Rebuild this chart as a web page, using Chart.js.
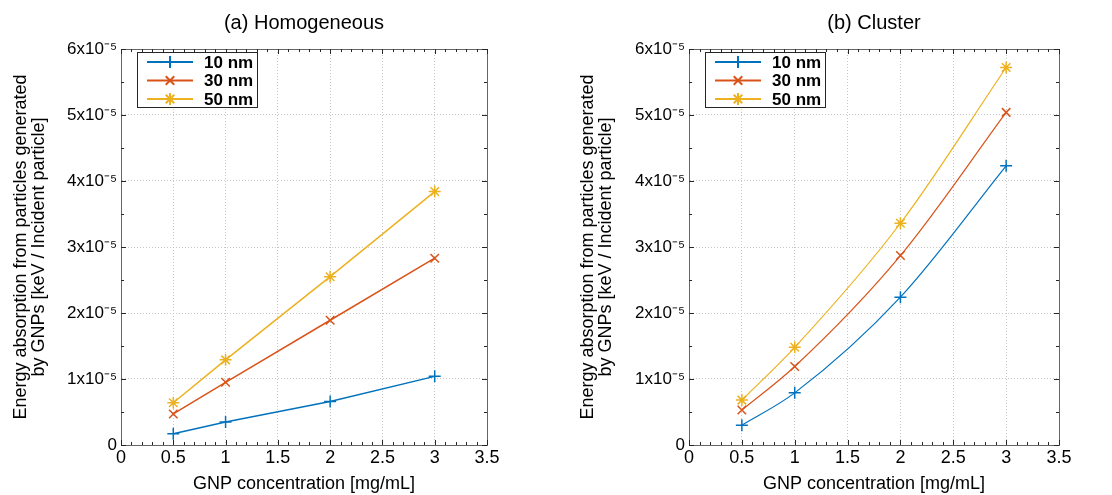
<!DOCTYPE html>
<html>
<head>
<meta charset="utf-8">
<script src="https://cdn.jsdelivr.net/npm/chart.js@4.4.1/dist/chart.umd.min.js"></script>
<style>
  body { margin: 0; background: #fff; }
  .wrap { position: absolute; top: 0; width: 556px; height: 495px; }
</style>
</head>
<body>
<div class="wrap" style="left:0"><canvas id="chartA"></canvas></div>
<div class="wrap" style="left:556px"><canvas id="chartB"></canvas></div>
<script>
const concentrations = [0.5, 1, 2, 3];
const seriesNames = ["10 nm", "30 nm", "50 nm"];
const seriesColors = ["#0072BD", "#D95319", "#EDB120"];
const seriesMarkers = ["cross", "crossRot", "star"];

// (a) Homogeneous
const homog10 = [1.7e-6, 3.5e-6, 6.6e-6, 1.04e-5];
const homog30 = [4.7e-6, 9.5e-6, 1.89e-5, 2.83e-5];
const homog50 = [6.4e-6, 1.29e-5, 2.55e-5, 3.84e-5];

// (b) Cluster
const cluster10 = [3.0e-6, 7.9e-6, 2.24e-5, 4.23e-5];
const cluster30 = [5.3e-6, 1.19e-5, 2.87e-5, 5.04e-5];
const cluster50 = [6.8e-6, 1.48e-5, 3.36e-5, 5.72e-5];

const xTicks = [0, 0.5, 1, 1.5, 2, 2.5, 3, 3.5];
const yTicks = [0, 1e-5, 2e-5, 3e-5, 4e-5, 5e-5, 6e-5];

const FONT = '"Liberation Sans", Arial, sans-serif';

function yLabel(v) {
  const n = Math.round(v / 1e-5);
  return n === 0 ? "0" : n + "x10\u207B\u2075";
}

const frameTicks = {
  id: "frameTicks",
  afterDraw(chart) {
    const { ctx, chartArea, scales } = chart;
    const { left, right, top, bottom } = chartArea;
    ctx.save();
    ctx.strokeStyle = "#666";
    ctx.lineWidth = 1;
    ctx.beginPath();
    ctx.moveTo(left, top + 0.5);
    ctx.lineTo(right + 0.5, top + 0.5);
    ctx.lineTo(right + 0.5, bottom);
    ctx.stroke();
    ctx.strokeStyle = "#262626";
    ctx.beginPath();
    for (let i = 0; i <= 35; i++) {
      const px = Math.round(scales.x.getPixelForValue(i / 10)) + 0.5;
      const len = i % 5 === 0 ? 5 : 3;
      ctx.moveTo(px, bottom); ctx.lineTo(px, bottom - len);
      ctx.moveTo(px, top); ctx.lineTo(px, top + len);
    }
    for (let j = 0; j <= 12; j++) {
      const py = Math.round(scales.y.getPixelForValue(j * 0.5e-5)) + 0.5;
      const len = j % 2 === 0 ? 5 : 3;
      ctx.moveTo(left, py); ctx.lineTo(left + len, py);
      ctx.moveTo(right, py); ctx.lineTo(right - len, py);
    }
    ctx.stroke();
    ctx.restore();
  }
};

const insetLegend = {
  id: "insetLegend",
  afterDraw(chart) {
    const { ctx, chartArea } = chart;
    const x = chartArea.left + 16, y = chartArea.top + 3, w = 120, h = 55;
    ctx.save();
    ctx.fillStyle = "#fff";
    ctx.fillRect(x, y, w, h);
    ctx.strokeStyle = "#262626";
    ctx.lineWidth = 1;
    ctx.strokeRect(x + 0.5, y + 0.5, w, h);
    chart.data.datasets.forEach((ds, i) => {
      const cy = y + 10 + i * 18.5;
      ctx.strokeStyle = ds.borderColor;
      ctx.lineWidth = 2;
      ctx.beginPath();
      ctx.moveTo(x + 10, cy);
      ctx.lineTo(x + 56, cy);
      ctx.stroke();
      Chart.helpers.drawPoint(ctx, { pointStyle: ds.pointStyle, radius: 6, borderWidth: 1.5, rotation: 0 }, x + 33, cy);
      ctx.fillStyle = "#000";
      ctx.font = "bold 17px " + FONT;
      ctx.textBaseline = "middle";
      ctx.textAlign = "left";
      ctx.fillText(ds.label, x + 67, cy + 1);
    });
    ctx.restore();
  }
};

function makeChart(id, title, values, curved, axisWidth, padRight, yTitlePad) {
  const datasets = values.map((vals, i) => ({
    label: seriesNames[i],
    data: concentrations.map((c, k) => ({ x: c, y: vals[k] })),
    borderColor: seriesColors[i],
    backgroundColor: seriesColors[i],
    borderWidth: curved ? 1.2 : 1.5,
    pointStyle: seriesMarkers[i],
    pointRadius: 6,
    pointBorderWidth: 1.5,
    tension: curved ? 0.4 : 0,
    cubicInterpolationMode: curved ? "monotone" : "default",
    clip: false
  }));

  return new Chart(document.getElementById(id), {
    type: "line",
    data: { datasets },
    options: {
      responsive: true,
      maintainAspectRatio: false,
      animation: false,
      layout: { padding: { left: 0, right: padRight, top: 0, bottom: 0 } },
      plugins: {
        legend: { display: false },
        tooltip: { enabled: false },
        title: {
          display: true,
          fullSize: false,
          text: title,
          color: "#000",
          font: { family: FONT, size: 20, weight: "normal" },
          padding: { top: 11, bottom: 14 }
        }
      },
      scales: {
        x: {
          type: "linear",
          min: 0,
          max: 3.5,
          afterBuildTicks: (s) => { s.ticks = xTicks.map((v) => ({ value: v })); },
          afterFit: (s) => { s.height = 50; },
          ticks: {
            color: "#000",
            font: { family: FONT, size: 18 },
            padding: 2,
            maxRotation: 0,
            callback: (v) => String(v)
          },
          grid: { color: "#c8c8c8", drawTicks: false },
          border: { display: true, color: "#666", dash: [1, 2] },
          title: {
            display: true,
            text: "GNP concentration [mg/mL]",
            color: "#000",
            font: { family: FONT, size: 18 },
            padding: { top: 1, bottom: 0 }
          }
        },
        y: {
          type: "linear",
          min: 0,
          max: 6e-5,
          afterBuildTicks: (s) => { s.ticks = yTicks.map((v) => ({ value: v })); },
          afterFit: (s) => { s.width = axisWidth; },
          ticks: {
            color: "#000",
            font: { family: FONT, size: 17 },
            padding: 4,
            callback: yLabel
          },
          grid: { color: "#c8c8c8", drawTicks: false },
          border: { display: true, color: "#666", dash: [1, 2] },
          title: {
            display: true,
            text: ["Energy absorption from particles generated", "by GNPs [keV / Incident particle]"],
            color: "#000",
            font: { family: FONT, size: 18, lineHeight: 1 },
            padding: { top: yTitlePad, bottom: 0 }
          }
        }
      }
    },
    plugins: [frameTicks, insetLegend]
  });
}

makeChart("chartA", "(a) Homogeneous", [homog10, homog30, homog50], false, 121, 69, 12);
makeChart("chartB", "(b) Cluster", [cluster10, cluster30, cluster50], true, 133, 53, 23);
</script>
</body>
</html>
